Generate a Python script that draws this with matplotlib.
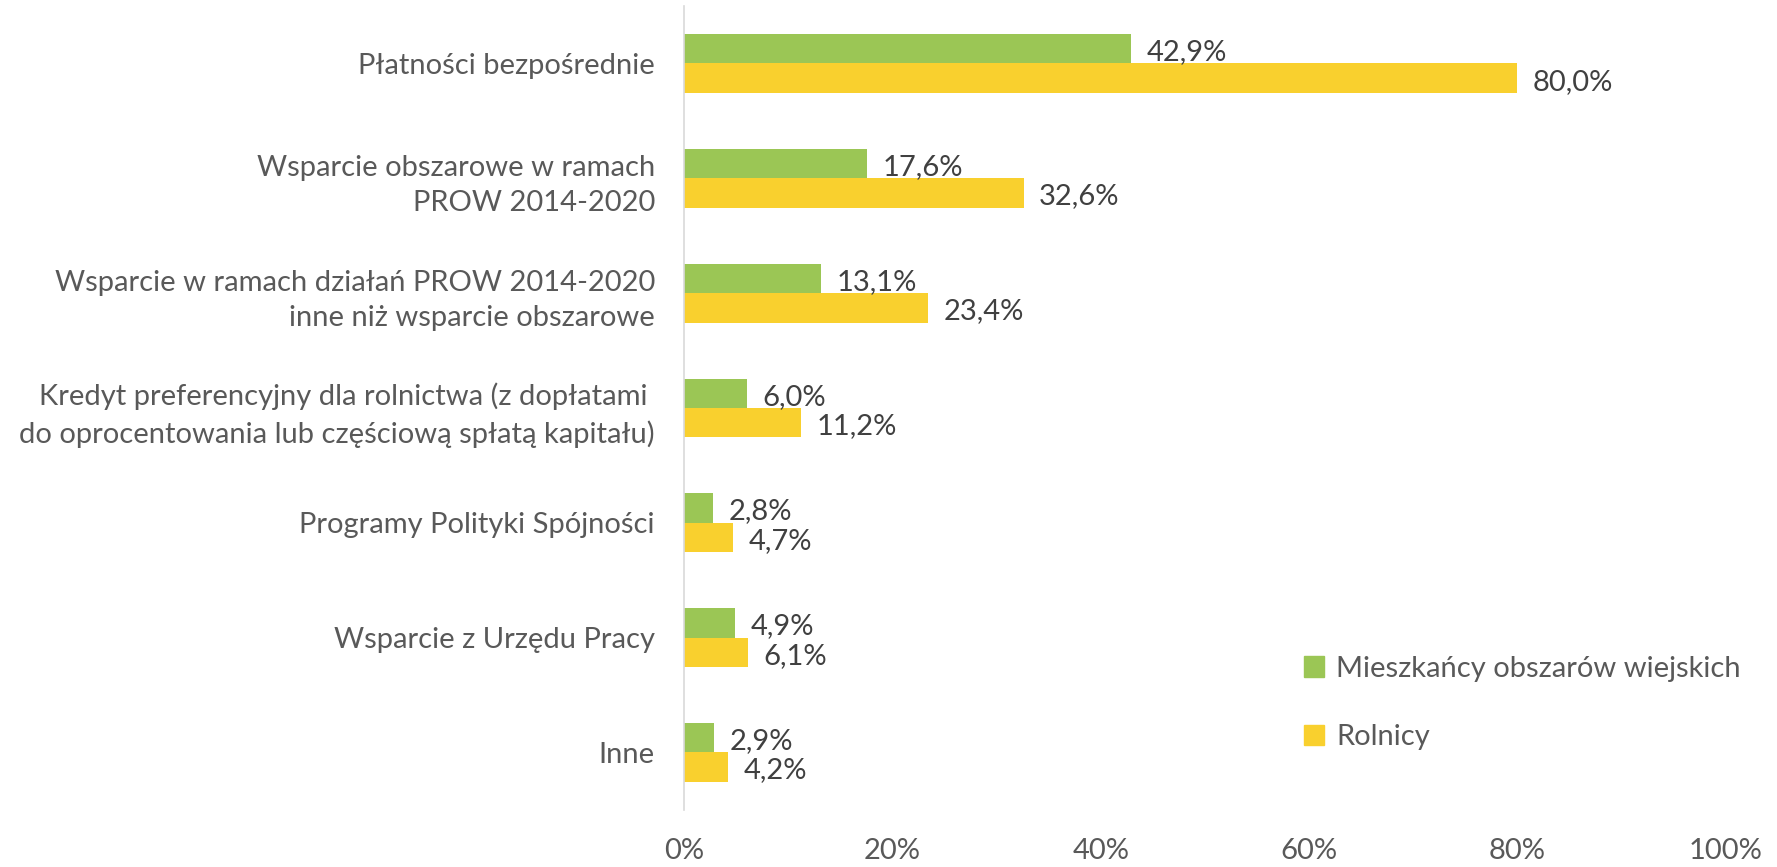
import matplotlib
matplotlib.use("Agg")
import matplotlib.pyplot as plt
import numpy as np
from matplotlib.patches import Patch

categories = [
    "Płatności bezpośrednie",
    "Wsparcie obszarowe w ramach\nPROW 2014-2020",
    "Wsparcie w ramach działań PROW 2014-2020\ninne niż wsparcie obszarowe",
    "Kredyt preferencyjny dla rolnictwa (z dopłatami \ndo oprocentowania lub częściową spłatą kapitału)",
    "Programy Polityki Spójności",
    "Wsparcie z Urzędu Pracy",
    "Inne",
]
mieszkancy = [42.9, 17.6, 13.1, 6.0, 2.8, 4.9, 2.9]
rolnicy = [80.0, 32.6, 23.4, 11.2, 4.7, 6.1, 4.2]
series_names = ["Mieszkańcy obszarów wiejskich", "Rolnicy"]
xticks = [0, 20, 40, 60, 80, 100]

GREEN = "#9BC655"
YELLOW = "#F9D02E"
TEXT = "#595959"
LABEL = "#404040"
FS = 21

plt.rcParams["font.family"] = ["Lato", "DejaVu Sans"]

fig = plt.figure(figsize=(17.77, 8.67), dpi=100)
ax = fig.add_axes([0.385, 0.066, 0.586, 0.927])

y = np.arange(len(categories))
h = 0.256
ax.barh(y - h / 2, mieszkancy, height=h, color=GREEN)
ax.barh(y + h / 2, rolnicy, height=h, color=YELLOW)

for yi, v in zip(y, mieszkancy):
    ax.text(v + 1.5, yi - h / 2 + 0.03, f"{v:.1f}%".replace(".", ","), va="center", ha="left",
            fontsize=FS, color=LABEL)
for yi, v in zip(y, rolnicy):
    ax.text(v + 1.5, yi + h / 2 + 0.03, f"{v:.1f}%".replace(".", ","), va="center", ha="left",
            fontsize=FS, color=LABEL)

ax.set_xlim(0, 100)
ax.set_ylim(len(categories) - 0.5, -0.5)
ax.set_yticks(y)
ax.set_yticklabels(categories, fontsize=FS, color=TEXT, linespacing=1.45)
ax.set_xticks(xticks)
ax.set_xticklabels([f"{t}%" for t in xticks], fontsize=FS, color=TEXT)
ax.tick_params(axis="both", length=0)
ax.tick_params(axis="x", pad=20)
ax.tick_params(axis="y", pad=21)
for s in ["top", "right", "bottom"]:
    ax.spines[s].set_visible(False)
ax.spines["left"].set_color("#D9D9D9")
ax.spines["left"].set_linewidth(1.2)

handles = [Patch(color=GREEN), Patch(color=YELLOW)]
leg = fig.legend(handles, series_names, loc="upper left", bbox_to_anchor=(0.719, 0.274),
                 frameon=False, fontsize=FS, handlelength=0.7, handleheight=0.7,
                 handletextpad=0.4, labelspacing=1.45, labelcolor=TEXT)

fig.savefig("out.png", dpi=100, facecolor="white")
